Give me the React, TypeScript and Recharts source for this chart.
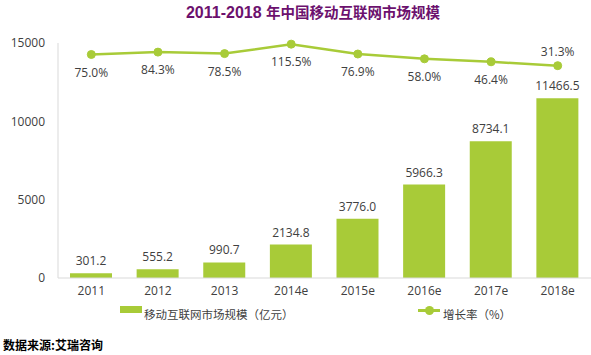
import { ComposedChart, Bar, Line, XAxis, YAxis, LabelList } from 'recharts';

const years = ['2011', '2012', '2013', '2014e', '2015e', '2016e', '2017e', '2018e'];
const marketSize = [301.2, 555.2, 990.7, 2134.8, 3776.0, 5966.3, 8734.1, 11466.5];
const growthRate = [75.0, 84.3, 78.5, 115.5, 76.9, 58.0, 46.4, 31.3];
const sizeTicks = [0, 5000, 10000, 15000];

const GREEN = '#a8cb38';
const TEXT = '#404040';
const FONT = '"Open Sans", "Noto Sans CJK SC", sans-serif';

const data = years.map((year, i) => ({
  year,
  size: marketSize[i],
  rate: growthRate[i],
}));

// growth labels sit under the dots, except the last one which goes above
const RateLabel = (props: any) => {
  const { x, y, value, index } = props;
  const above = index === growthRate.length - 1;
  return (
    <text
      x={x}
      y={above ? y - 13 : y + 19}
      textAnchor="middle"
      dominantBaseline="middle"
      fontSize={12}
      fill={TEXT}
      fontFamily={FONT}
    >
      {Number(value).toFixed(1)}%
    </text>
  );
};

const App = () => {
  return (
    <div
      style={{
        position: 'absolute',
        left: 0,
        top: 0,
        width: 591,
        height: 355,
        background: '#fff',
        fontFamily: FONT,
      }}
    >
      <div
        style={{
          position: 'absolute',
          top: 2,
          left: 0,
          width: 626,
          textAlign: 'center',
          color: '#6c116e',
          fontWeight: 'bold',
          whiteSpace: 'nowrap',
          lineHeight: '20px',
        }}
      >
        <span style={{ fontFamily: '"Liberation Sans", Arial, sans-serif', fontSize: 16 }}>2011-2018 </span>
        <span style={{ fontFamily: '"Noto Sans CJK SC", sans-serif', fontSize: 14.5 }}>
          年中国移动互联网市场规模
        </span>
      </div>

      <ComposedChart
        width={591}
        height={300}
        data={data}
        margin={{ top: 43, right: 0, bottom: 0, left: 0 }}
        barCategoryGap={25}
      >
        <XAxis
          dataKey="year"
          tickLine={false}
          axisLine={{ stroke: '#d9d9d9' }}
          height={22}
          tick={{ fontSize: 12, fill: TEXT, fontFamily: FONT }}
        />
        <YAxis
          yAxisId="size"
          width={58}
          domain={[0, 15000]}
          ticks={sizeTicks}
          tickLine={false}
          tickSize={0}
          tickMargin={13}
          axisLine={{ stroke: '#d9d9d9' }}
          tick={{ fontSize: 12, fill: TEXT, fontFamily: FONT }}
        />
        <YAxis yAxisId="rate" orientation="right" hide domain={[-800, 120]} />
        <Bar yAxisId="size" dataKey="size" fill={GREEN} barSize={42} isAnimationActive={false}>
          <LabelList
            dataKey="size"
            position="top"
            offset={8}
            formatter={(v: any) => Number(v).toFixed(1)}
            style={{ fontSize: 12, fill: TEXT, fontFamily: FONT }}
          />
        </Bar>
        <Line
          yAxisId="rate"
          dataKey="rate"
          stroke={GREEN}
          strokeWidth={2.5}
          dot={{ r: 4, fill: GREEN, stroke: GREEN, strokeWidth: 1 }}
          label={<RateLabel />}
          isAnimationActive={false}
        />
      </ComposedChart>

      {/* legend */}
      <div style={{ position: 'absolute', left: 120, top: 306, width: 22, height: 7, background: GREEN }} />
      <div
        style={{
          position: 'absolute',
          left: 144,
          top: 305,
          fontSize: 11.5,
          color: TEXT,
          fontFamily: '"Noto Sans CJK SC", sans-serif',
          lineHeight: '18px',
          whiteSpace: 'nowrap',
        }}
      >
        移动互联网市场规模（亿元）
      </div>
      <div style={{ position: 'absolute', left: 418, top: 309, width: 22, height: 3, background: GREEN }} />
      <div
        style={{ position: 'absolute', left: 425, top: 306, width: 9, height: 9, borderRadius: 5, background: GREEN }}
      />
      <div
        style={{
          position: 'absolute',
          left: 443,
          top: 305,
          fontSize: 11.5,
          color: TEXT,
          fontFamily: '"Noto Sans CJK SC", sans-serif',
          lineHeight: '18px',
          whiteSpace: 'nowrap',
        }}
      >
        增长率（%）
      </div>

      <div
        style={{
          position: 'absolute',
          left: 3,
          top: 337,
          fontSize: 12,
          color: '#000',
          fontWeight: 'bold',
          fontFamily: '"Noto Sans CJK SC", sans-serif',
          lineHeight: '16px',
          whiteSpace: 'nowrap',
        }}
      >
        数据来源:艾瑞咨询
      </div>
    </div>
  );
};

export default App;
